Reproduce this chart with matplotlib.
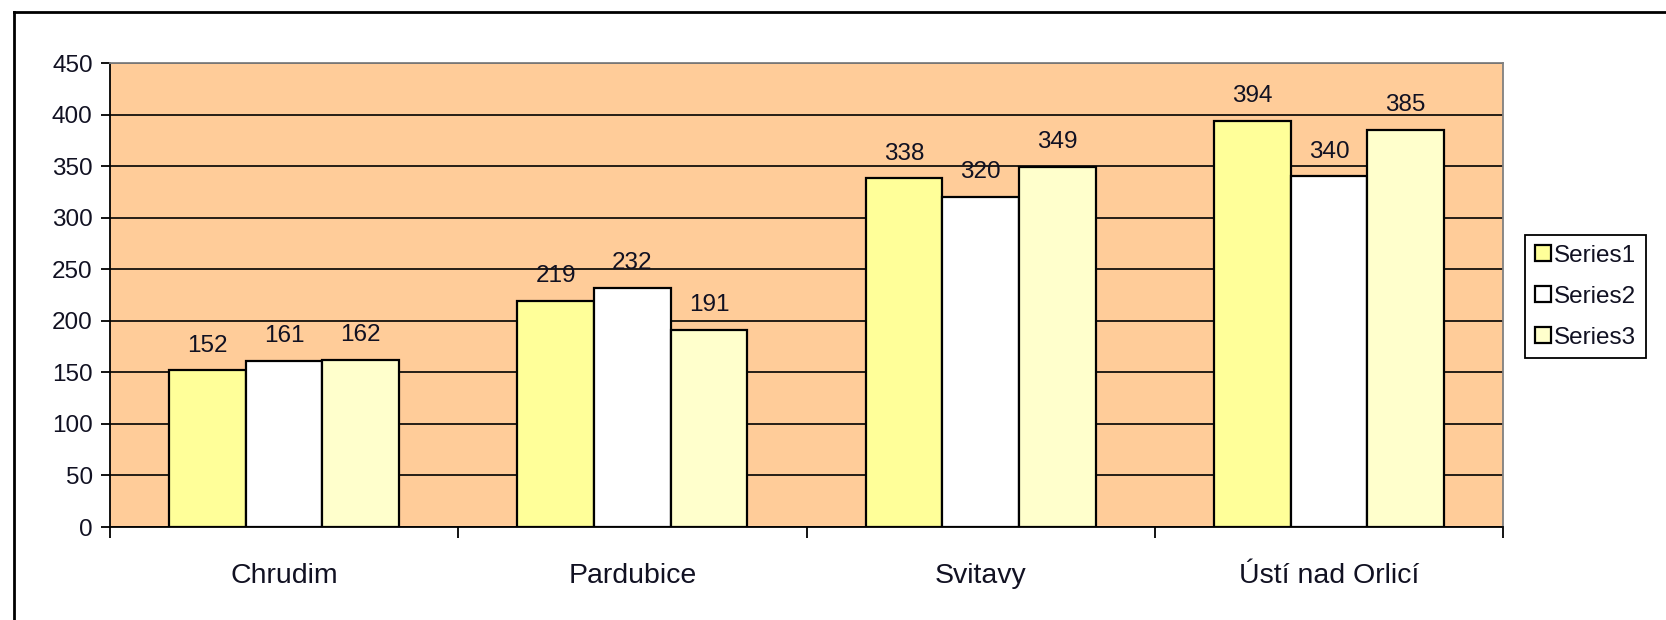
import matplotlib
matplotlib.use("Agg")
import matplotlib.pyplot as plt
from matplotlib.lines import Line2D
import numpy as np

categories = ["Chrudim", "Pardubice", "Svitavy", "Ústí nad Orlicí"]
series_names = ["Series1", "Series2", "Series3"]
series1 = [152, 219, 338, 394]
series2 = [161, 232, 320, 340]
series3 = [162, 191, 349, 385]
y_ticks = [0, 50, 100, 150, 200, 250, 300, 350, 400, 450]

colors = ["#FFFF99", "#FFFFFF", "#FFFFCC"]
text_color = "#111122"

plt.rcParams["font.family"] = ["Liberation Sans", "DejaVu Sans"]

fig = plt.figure(figsize=(16.66, 6.2), dpi=100)
ax = fig.add_axes([110 / 1666, 93 / 620, (1503 - 110) / 1666, (527 - 63) / 620])
ax.set_facecolor("#FFCC99")

x = np.arange(len(categories))
width = 0.22
for i, (name, values) in enumerate(zip(series_names, [series1, series2, series3])):
    pos = x + (i - 1) * width
    ax.bar(pos, values, width=width, color=colors[i], edgecolor="black",
           linewidth=1.6, label=name, zorder=3)
    for px, v in zip(pos, values):
        ax.annotate(str(v), (px, v), xytext=(0, 13.5), textcoords="offset points",
                    ha="center", va="baseline", fontsize=17.5, color=text_color, zorder=4)

ax.set_xlim(-0.5, len(categories) - 0.5)
ax.set_ylim(0, 450)
ax.set_yticks(y_ticks)
ax.set_yticklabels([str(t) for t in y_ticks], fontsize=17.5, color=text_color)
ax.yaxis.grid(True, color="black", linewidth=1.2, zorder=1)
ax.set_axisbelow(True)

# category boundaries carry the ticks, labels sit centered
ax.set_xticks(np.arange(-0.5, len(categories), 1.0))
ax.set_xticklabels([])
ax.set_xticks(x, minor=True)
ax.set_xticklabels(categories, minor=True, fontsize=20.5, color=text_color)
ax.tick_params(axis="x", which="minor", length=0, pad=26)
ax.tick_params(axis="x", which="major", length=8, width=1.3, direction="out")
ax.tick_params(axis="y", length=6.5, width=1.3, direction="out", pad=6)

for side in ["top", "right"]:
    ax.spines[side].set_color("#808080")
    ax.spines[side].set_linewidth(1.3)
for side in ["left", "bottom"]:
    ax.spines[side].set_color("black")
    ax.spines[side].set_linewidth(1.3)

leg = ax.legend(loc="upper left", bbox_to_anchor=(1525 / 1666, (620 - 235) / 620),
                bbox_transform=fig.transFigure, fontsize=17.5, frameon=True,
                fancybox=False, edgecolor="black", framealpha=1,
                handlelength=0.65, handleheight=0.65, handletextpad=0.15,
                borderpad=0.4, labelspacing=0.78, borderaxespad=0)
leg.get_frame().set_linewidth(1.3)
for t in leg.get_texts():
    t.set_color(text_color)

# chart area border (left and top visible)
fig.add_artist(Line2D([14 / 1666, 14 / 1666], [0, 1 - 12 / 620], transform=fig.transFigure,
                      color="black", linewidth=2))
fig.add_artist(Line2D([14 / 1666, 1], [1 - 12 / 620, 1 - 12 / 620], transform=fig.transFigure,
                      color="black", linewidth=2))

fig.savefig("out.png", dpi=100)
